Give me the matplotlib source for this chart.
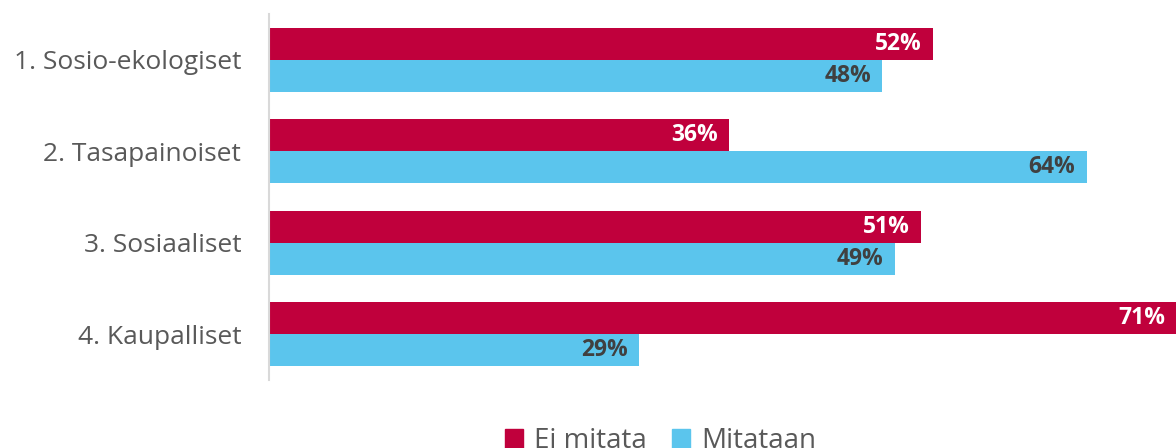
import numpy as np
import matplotlib.pyplot as plt
from matplotlib.patches import Patch

plt.rcParams['font.family'] = ['Open Sans', 'DejaVu Sans']

categories = ['1. Sosio-ekologiset', '2. Tasapainoiset', '3. Sosiaaliset', '4. Kaupalliset']
ei_mitata = [52, 36, 51, 71]
mitataan = [48, 64, 49, 29]
series_names = ['Ei mitata', 'Mitataan']

red = '#C0003C'
blue = '#5BC5ED'

fig = plt.figure(figsize=(11.76, 4.48), dpi=100)
ax = fig.add_axes([269/1176, 1 - 380/448, 1 - 269/1176, (380 - 14)/448])

y = np.arange(len(categories))
h = 0.348
ax.barh(y - h/2, ei_mitata, height=h, color=red)
ax.barh(y + h/2, mitataan, height=h, color=blue)

for i in range(len(categories)):
    ax.annotate(f'{ei_mitata[i]}%', (ei_mitata[i], y[i] - h/2), xytext=(-8, 0),
                textcoords='offset points', ha='right', va='center',
                color='white', fontsize=16.5, fontweight='bold')
    ax.annotate(f'{mitataan[i]}%', (mitataan[i], y[i] + h/2), xytext=(-8, 0),
                textcoords='offset points', ha='right', va='center',
                color='#404040', fontsize=16.5, fontweight='bold')

ax.set_xlim(0, 71)
ax.set_ylim(3.5, -0.5)
ax.set_yticks(y)
ax.set_yticklabels(categories, fontsize=19, color='#595959')
ax.tick_params(axis='y', length=0, pad=20)
ax.set_xticks([])
for s in ['top', 'right', 'bottom']:
    ax.spines[s].set_visible(False)
ax.spines['left'].set_color('#D9D9D9')
ax.spines['left'].set_linewidth(1.5)

handles = [Patch(color=red), Patch(color=blue)]
fig.legend(handles, series_names, loc='center left',
           bbox_to_anchor=(494/1176, 1 - 441/448), ncol=2, frameon=False,
           fontsize=20, labelcolor='#595959', handlelength=0.65, handleheight=0.65,
           handletextpad=0.4, columnspacing=0.9, borderaxespad=0)

fig.savefig('out.png', dpi=100)
